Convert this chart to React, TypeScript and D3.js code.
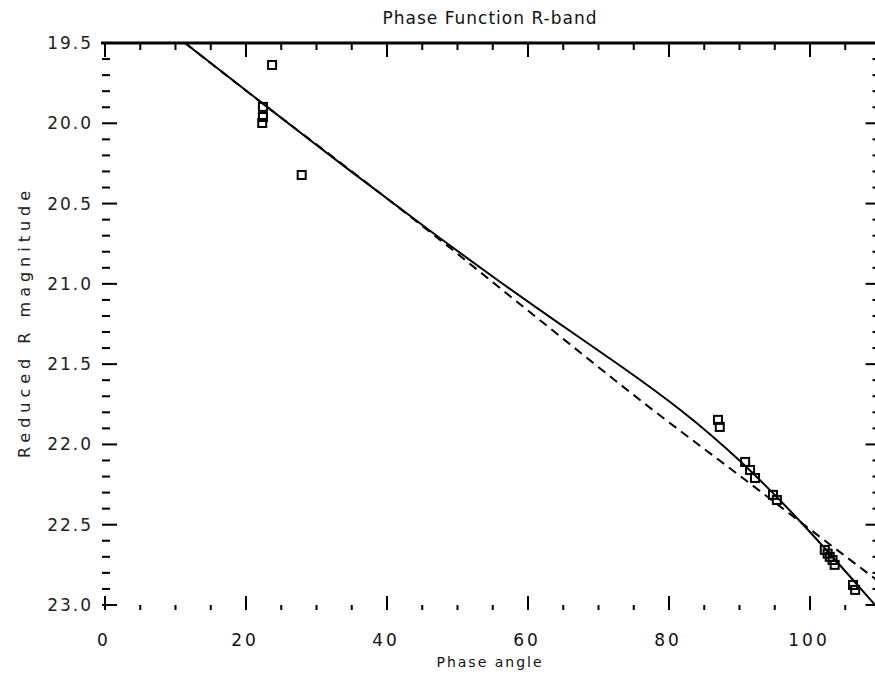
import * as d3 from "d3";

// Observed points (phase angle in deg, reduced R magnitude)
const obsPhase = [23.7, 22.4, 22.4, 22.3, 27.9, 86.95, 87.2, 90.8, 91.5, 92.2, 94.75, 95.3, 102.1, 102.5, 102.8, 103.2, 103.5, 106.1, 106.4];
const obsMag = [19.637, 19.898, 19.961, 19.998, 20.322, 21.847, 21.891, 22.109, 22.159, 22.209, 22.314, 22.346, 22.657, 22.68, 22.7, 22.72, 22.75, 22.875, 22.906];

// Model curves
const solidPhase = [11.35, 22.27, 34.75, 46.1, 56.0, 64.5, 73.0, 82.0, 90.07, 98.6, 109.2, 110];
const solidMag = [19.5, 19.874, 20.297, 20.671, 20.988, 21.25, 21.505, 21.79, 22.095, 22.47, 22.998, 23.04];
const dashPhase = [11.35, 22.27, 34.75, 46.1, 59.9, 77.7, 90.07, 105.7, 110];
const dashMag = [19.5, 19.874, 20.291, 20.677, 21.163, 21.785, 22.196, 22.719, 22.862];

const xTickLabels = [0, 20, 40, 60, 80, 100];
const yTickLabels = [19.5, 20.0, 20.5, 21.0, 21.5, 22.0, 22.5, 23.0];

export default function App() {
  const width = 875;
  const height = 675;
  const x = d3.scaleLinear().domain([0, 110]).range([105, 880.5]);
  const y = d3.scaleLinear().domain([19.5, 23.0]).range([43, 605]);

  const line = d3
    .line<[number, number]>()
    .x((d) => x(d[0]))
    .y((d) => y(d[1]))
    .curve(d3.curveBasis);

  const solid = line(solidPhase.map((p, i) => [p, solidMag[i]]));
  const dashed = d3
    .line<[number, number]>()
    .x((d) => x(d[0]))
    .y((d) => y(d[1]))
    .curve(d3.curveMonotoneX)(dashPhase.map((p, i) => [p, dashMag[i]]));

  const xMinor = d3.range(0, 111, 5);
  const yMinor = d3.range(19.5, 23.001, 0.1);
  const font = "'DejaVu Sans', sans-serif";

  const [x0, x1] = x.range();
  const [yTop, yBot] = y.range();

  return (
    <svg width={width} height={height} style={{ position: "absolute", left: 0, top: 0, background: "#fff" }}>
      <defs>
        <clipPath id="plot">
          <rect x={x0} y={yTop} width={x1 - x0} height={yBot - yTop} />
        </clipPath>
      </defs>

      {/* Title */}
      <text x={490} y={24} textAnchor="middle" fontSize={17} fontFamily={font} letterSpacing={1} fill="#111">
        Phase Function R-band
      </text>

      {/* Top axis */}
      <line x1={x0 - 4} x2={x1} y1={yTop} y2={yTop} stroke="#000" strokeWidth={3} />
      {xMinor.map((v) => (
        <line key={"t" + v} x1={x(v)} x2={x(v)} y1={yTop} y2={yTop + (v % 20 === 0 ? 14 : 7)} stroke="#000" strokeWidth={2} />
      ))}

      {/* Bottom axis ticks */}
      {xMinor.map((v) => (
        <line key={"b" + v} x1={x(v)} x2={x(v)} y1={yBot + 5} y2={yBot + 5 - (v % 20 === 0 ? 14 : 5)} stroke="#000" strokeWidth={2} />
      ))}
      {xTickLabels.map((v) => (
        <text key={"xl" + v} x={x(v) - 1} y={646} textAnchor="middle" fontSize={17} fontFamily={font} letterSpacing={3} fill="#111">
          {v}
        </text>
      ))}
      <text x={490} y={667} textAnchor="middle" fontSize={14} fontFamily={font} letterSpacing={2} fill="#111">
        Phase angle
      </text>

      {/* Left / right axis ticks */}
      {yMinor.map((v, i) => {
        const major = i % 5 === 0;
        return (
          <g key={"y" + i}>
            <line x1={x0 - 3} x2={x0 - 3 + (major ? 15 : 8)} y1={y(v)} y2={y(v)} stroke="#000" strokeWidth={2} />
            <line x1={x1} x2={x1 - (major ? 15 : 8)} y1={y(v)} y2={y(v)} stroke="#000" strokeWidth={2} />
          </g>
        );
      })}
      {yTickLabels.map((v) => (
        <text key={"yl" + v} x={93} y={y(v) + 6} textAnchor="end" fontSize={17} fontFamily={font} letterSpacing={2} fill="#222">
          {v.toFixed(1)}
        </text>
      ))}
      <text
        transform={`translate(30,${(yTop + yBot) / 2 - 2}) rotate(-90)`}
        textAnchor="middle"
        fontSize={16}
        fontFamily={font}
        letterSpacing={5}
        fill="#222"
      >
        Reduced R magnitude
      </text>

      {/* Curves */}
      <g clipPath="url(#plot)">
        <path d={solid ?? ""} fill="none" stroke="#000" strokeWidth={2} />
        <path d={dashed ?? ""} fill="none" stroke="#000" strokeWidth={2} strokeDasharray="9,6" />
      </g>

      {/* Observations */}
      {obsPhase.map((p, i) => (
        <rect
          key={"o" + i}
          x={x(p) - 4}
          y={y(obsMag[i]) - 4}
          width={8}
          height={8}
          fill="none"
          stroke="#000"
          strokeWidth={2}
        />
      ))}
    </svg>
  );
}
